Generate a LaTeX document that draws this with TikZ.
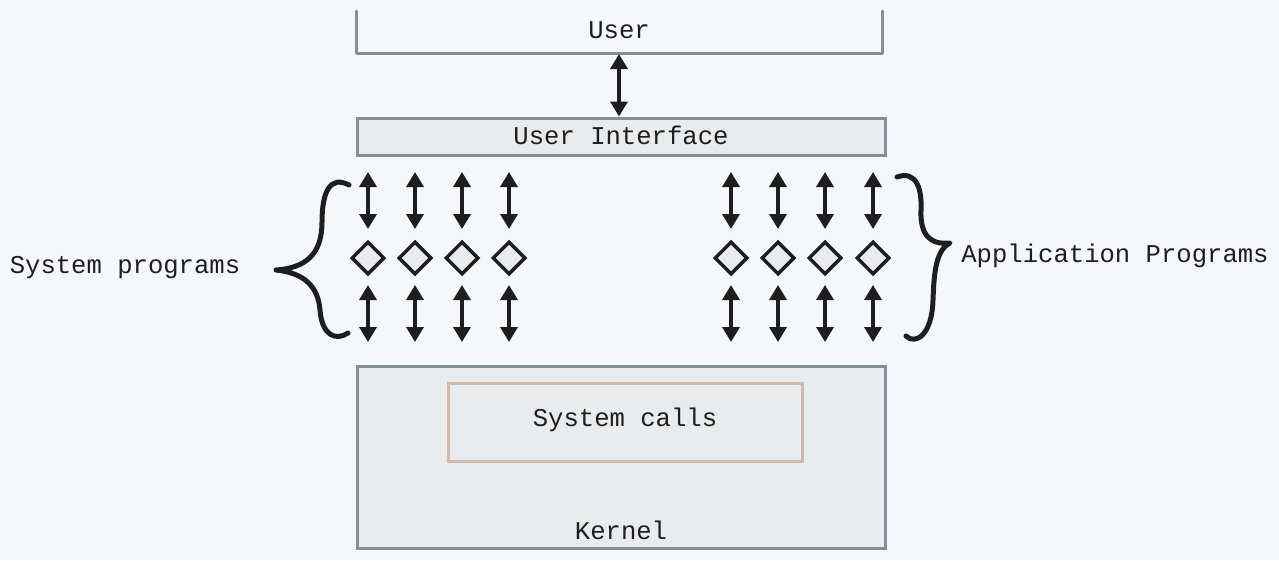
\documentclass[tikz,border=0pt]{standalone}
\usepackage{fontspec}
\setmainfont{Liberation Mono}
\usetikzlibrary{arrows.meta,shapes.geometric}
\definecolor{bg}{HTML}{F4F8FC}
\definecolor{boxgray}{HTML}{868E96}
\definecolor{boxfill}{HTML}{E9ECEF}
\definecolor{ink}{HTML}{1E1E1E}
\definecolor{callsborder}{HTML}{D6B9AD}
\tikzset{
  lbl/.style={font=\fontsize{25.6}{30}\selectfont, text=ink, inner sep=0pt},
  panel/.style={draw=boxgray, line width=3pt, fill=boxfill},
  biarrow/.style={draw=ink, line width=3.5pt, {Triangle[width=17pt,length=15pt]}-{Triangle[width=17pt,length=15pt]}},
  dia/.style={diamond, draw=ink, fill=boxfill, line width=3.5pt, minimum width=33pt, minimum height=33pt, inner sep=0pt, aspect=1},
  brace/.style={draw=ink, line width=5pt, line cap=round, line join=round},
}
\begin{document}
\begin{tikzpicture}[x=1pt,y=-1pt]
\fill[bg] (0,0) rectangle (1279,560);
\useasboundingbox (0,0) rectangle (1279,560);

% User (open-top box)
\draw[boxgray, line width=3pt, line cap=round, line join=round] (356,11) -- (356,53) -- (882,53) -- (882,11);
\node[lbl] (user) at (619,30) {User};
\coordinate (userbot) at (619,54);

% User Interface
\node[panel, minimum width=528pt, minimum height=37pt, inner sep=0pt] (ui) at (621,136.5) {};
\node[lbl] (uitext) at (621,135) {User Interface};
\draw[biarrow] (userbot) -- (ui.north -| userbot);

% Kernel
\node[panel, minimum width=528pt, minimum height=182pt, inner sep=0pt] (kernel) at (621,457) {};
\node[draw=callsborder, line width=3pt, fill=boxfill, minimum width=354pt, minimum height=78pt, inner sep=0pt] (calls) at (625,422) {};
\node[lbl] (callstext) at (625,420) {System calls};
\node[lbl] (kerneltext) at (621,530) {Kernel};

% Columns of diamonds and arrows
\foreach \i/\x in {1/368,2/415,3/462,4/509,5/731,6/778,7/825,8/873}{
  \node[dia] (d\i) at (\x,258) {};
  \coordinate (t\i a) at (\x,172);
  \coordinate (t\i b) at (\x,229);
  \coordinate (b\i a) at (\x,285);
  \coordinate (b\i b) at (\x,342);
  \draw[biarrow] (t\i a) -- (t\i b);
  \draw[biarrow] (b\i a) -- (b\i b);
}

% Braces
\draw[brace] (349,185) .. controls (330,175) and (322,192) .. (322,222)
  .. controls (322,255) and (305,268) .. (276,270)
  .. controls (305,273) and (318,287) .. (320,310)
  .. controls (322,336) and (336,341) .. (348,333);
\draw[brace] (897,177) .. controls (917,170) and (922,190) .. (921,210)
  .. controls (920,235) and (930,245) .. (950,243)
  .. controls (936,250) and (934,272) .. (933,300)
  .. controls (932,336) and (915,345) .. (906,336);

\node[lbl] (sysprog) at (125,268) {System programs};
\node[lbl] (appprog) at (1115,256) {Application Programs};
\end{tikzpicture}
\end{document}
